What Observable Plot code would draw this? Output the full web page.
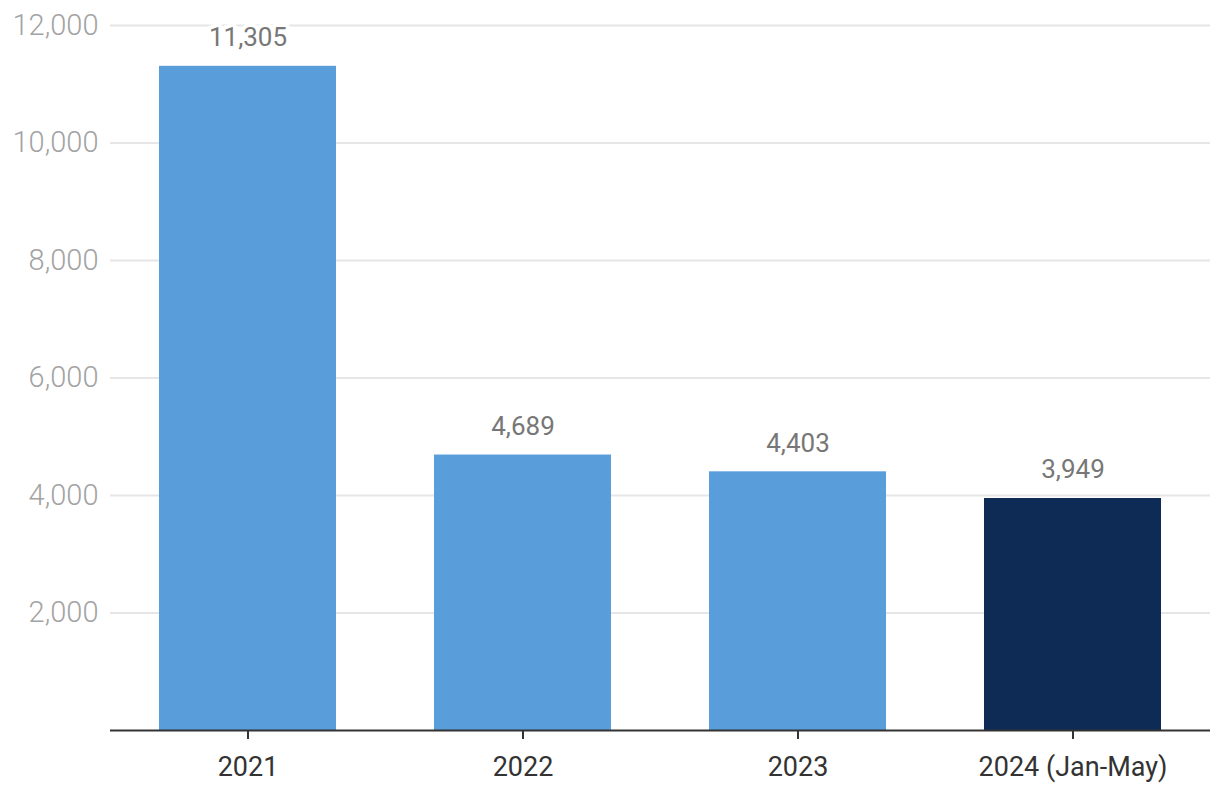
<!DOCTYPE html>
<html>
<head>
<meta charset="utf-8">
<script src="https://cdn.jsdelivr.net/npm/d3@7"></script>
<script src="https://cdn.jsdelivr.net/npm/@observablehq/plot@0.6"></script>
<style>
  html, body { margin: 0; padding: 0; background: #ffffff; }
  #chart svg { display: block; }
</style>
</head>
<body>
<div id="chart"></div>
<script>
const years = ["2021", "2022", "2023", "2024 (Jan-May)"];
const values = [11305, 4689, 4403, 3949];
const partialYear = [false, false, false, true];
const yTicks = [2000, 4000, 6000, 8000, 10000, 12000];

const data = years.map((year, i) => ({ year, value: values[i], partial: partialYear[i] }));
const fmt = d3.format(",");

const chart = Plot.plot({
  width: 1220,
  height: 804,
  marginTop: 25,
  marginBottom: 74,
  marginLeft: 110,
  marginRight: 10,
  style: { fontFamily: "Roboto, 'Noto Sans', sans-serif", background: "#ffffff" },
  x: { domain: years, paddingInner: 0.356, paddingOuter: 0.178, label: null },
  y: { domain: [0, 12000], label: null },
  color: { type: "identity" },
  marks: [
    Plot.gridY(yTicks, { stroke: "#e6e6e6", strokeOpacity: 1, strokeWidth: 2 }),
    Plot.axisY(yTicks, { tickSize: 0, tickPadding: 12, fontSize: 29, fontWeight: 300, fill: "#a3a3a3", tickFormat: fmt, label: null }),
    Plot.barY(data, { x: "year", y: "value", fill: d => d.partial ? "#0e2b56" : "#5a9ddb" }),
    Plot.ruleY([0], { stroke: "#333333", strokeWidth: 2 }),
    Plot.axisX({ tickSize: 9, tickPadding: 17, fontSize: 27, color: "#333333", stroke: "#333333", strokeWidth: 2, label: null }),
    Plot.text(data, {
      x: "year", y: "value", text: d => fmt(d.value),
      dy: -20, lineAnchor: "bottom", fontSize: 26, fill: "#777777",
      stroke: "#ffffff", strokeWidth: 8
    })
  ]
});
document.getElementById("chart").appendChild(chart);
</script>
</body>
</html>
